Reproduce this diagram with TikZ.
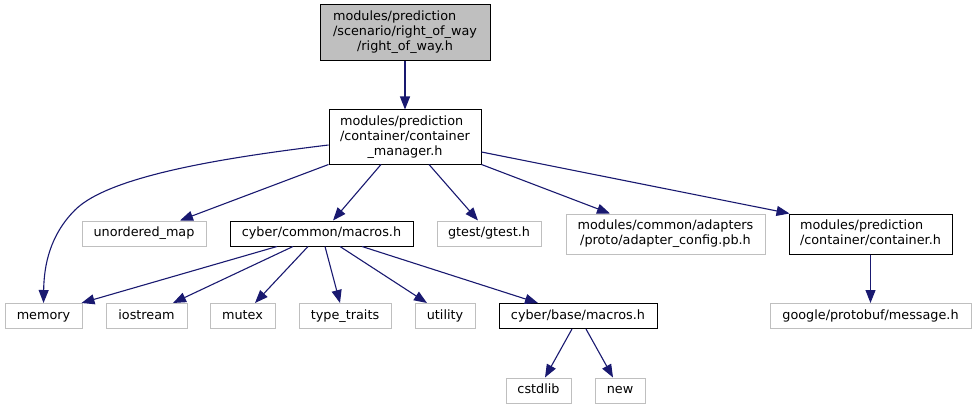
\documentclass[tikz,border=0pt]{standalone}
\usepackage{fontspec}
\setmainfont{DejaVu Sans}
\usetikzlibrary{arrows.meta}
\definecolor{boxgray}{HTML}{BFBFBF}
\definecolor{topfill}{HTML}{BFBFBF}
\definecolor{edgeblue}{HTML}{191970}
\newcommand{\fsz}{\fontsize{12.8}{15}\selectfont}
\tikzset{
  basebox/.style={draw, rectangle, inner sep=0pt, line width=1pt, font=\fsz, anchor=center},
  solidbox/.style={basebox, draw=black},
  graybox/.style={basebox, draw=boxgray},
  one/.style={minimum height=25pt, text height=9.5pt, text depth=3.5pt},
  two/.style={minimum height=40pt},
  edge/.style={draw=edgeblue, line width=1.1pt, -{Triangle[length=13pt,width=10pt]}},
}
\begin{document}
\begin{tikzpicture}[x=1pt,y=-1pt]
\useasboundingbox (0,0) rectangle (976,409);
% row 1
\node[solidbox, fill=topfill, minimum width=170pt, minimum height=56pt] (top) at (405,33)
  {\begin{tabular}{@{}l@{}}modules/prediction\\/scenario/right\_of\_way\\\multicolumn{1}{@{}c@{}}{/right\_of\_way.h}\end{tabular}};
% row 2
\node[solidbox, minimum width=152pt, minimum height=54pt] (cm) at (405,137)
  {\begin{tabular}{@{}l@{}}modules/prediction\\/container/container\\\multicolumn{1}{@{}c@{}}{\_manager.h}\end{tabular}};
% row 3
\node[graybox, one, minimum width=124pt] (um) at (144,233.5) {unordered\_map};
\node[solidbox, one, minimum width=183pt] (ccm) at (321.5,233.5) {cyber/common/macros.h};
\node[graybox, one, minimum width=104pt] (gtest) at (489,233.5) {gtest/gtest.h};
\node[graybox, two, minimum width=199pt] (adapter) at (665.5,234)
  {\begin{tabular}{@{}c@{}}modules/common/adapters\\/proto/adapter\_config.pb.h\end{tabular}};
\node[solidbox, two, minimum width=163pt] (cont) at (870.5,234)
  {\begin{tabular}{@{}l@{}}modules/prediction\\/container/container.h\end{tabular}};
% row 4
\node[graybox, one, minimum width=77pt] (memory) at (43.5,316) {memory};
\node[graybox, one, minimum width=81pt] (iostream) at (146.5,316) {iostream};
\node[graybox, one, minimum width=65pt] (mutex) at (242.5,316) {mutex};
\node[graybox, one, minimum width=92pt] (tt) at (345,316) {type\_traits};
\node[graybox, one, minimum width=60pt] (utility) at (445,316) {utility};
\node[solidbox, one, minimum width=158pt] (bm) at (578,316) {cyber/base/macros.h};
\node[graybox, one, minimum width=201pt] (msg) at (870.5,316) {google/protobuf/message.h};
% row 5
\node[graybox, one, minimum width=65pt] (cstdlib) at (538.5,390.5) {cstdlib};
\node[graybox, one, minimum width=50pt] (new) at (620,390.5) {new};
% edges
\draw[edge] (top.south) -- (cm.north);
\draw[edge] ([yshift=-8pt]cm.west) .. controls (230,157) and (110,175) .. (75,210)
  .. controls (50,235) and (44,265) .. (memory.north);
\draw[edge] (cm.south west) -- ([xshift=36pt]um.north);
\draw[edge] ([xshift=-24pt]cm.south) -- ([xshift=11.5pt]ccm.north);
\draw[edge] ([xshift=24pt]cm.south) -- ([xshift=-11pt]gtest.north);
\draw[edge] (cm.south east) -- ([xshift=-55.5pt]adapter.north);
\draw[edge] ([yshift=-15pt]cm.east) -- ([xshift=1pt]cont.north west);
\draw[edge] (cont.south) -- (msg.north);
\draw[edge] ([xshift=-44.5pt]ccm.south) -- ([xshift=-1pt]memory.north east);
\draw[edge] ([xshift=-28.5pt]ccm.south) -- ([xshift=26.5pt]iostream.north);
\draw[edge] ([xshift=-13.5pt]ccm.south) -- ([xshift=12.5pt]mutex.north);
\draw[edge] ([xshift=3.5pt]ccm.south) -- ([xshift=-5pt]tt.north);
\draw[edge] ([xshift=18.5pt]ccm.south) -- ([xshift=-18pt]utility.north);
\draw[edge] ([xshift=40.5pt]ccm.south) -- ([xshift=-40pt]bm.north);
\draw[edge] ([xshift=-6pt]bm.south) -- ([xshift=6.5pt]cstdlib.north);
\draw[edge] ([xshift=8pt]bm.south) -- ([xshift=-7pt]new.north);
\end{tikzpicture}
\end{document}
